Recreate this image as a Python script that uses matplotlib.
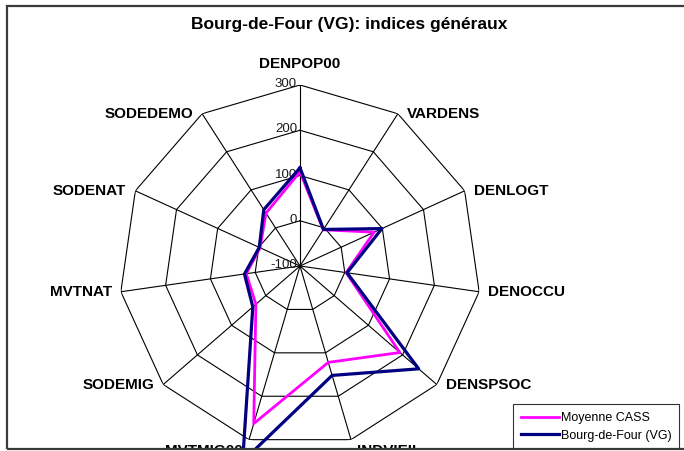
import numpy as np
import matplotlib
matplotlib.use("Agg")
from matplotlib import pyplot as plt
from matplotlib.patches import Rectangle

plt.rcParams['font.family'] = ['Liberation Sans', 'DejaVu Sans']

categories = ['DENPOP00', 'VARDENS', 'DENLOGT', 'DENOCCU', 'DENSPSOC', 'INDVIEIL',
              'MVTMIG00', 'SODEMIG', 'MVTNAT', 'SODENAT', 'SODEDEMO']
moyenne_cass = [108, -5, 80, 3, 192, 122, 263, 29, 20, -3, 39]
bourg_de_four = [117, -4, 99, 5, 247, 152, 350, 38, 24, -1, 48]
ring_values = [-100, 0, 100, 200, 300]
ring_labels = ['-100', '0', '100', '200', '300']

W, H = 684, 451
fig = plt.figure(figsize=(W / 100, H / 100), dpi=100)

# polar axes centred on the radar, radius ~181 px
cx, cy, R = 300, 266, 181
ax = fig.add_axes([(cx - R) / W, (H - cy - R) / H, 2 * R / W, 2 * R / H],
                  projection='polar')
ax.set_theta_zero_location('N')
ax.set_theta_direction(-1)
ax.set_ylim(-100, 300)
ax.grid(False)
ax.set_xticks([])
ax.set_yticks([])
ax.spines['polar'].set_visible(False)
ax.patch.set_visible(False)

n = len(categories)
angles = np.linspace(0, 2 * np.pi, n, endpoint=False)
closed = np.append(angles, angles[0])

# polygon rings and spokes
for v in ring_values[1:]:
    ax.plot(closed, [v] * (n + 1), color='black', lw=0.8, zorder=1)
for a in angles:
    ax.plot([a, a], [-100, 300], color='black', lw=0.8, zorder=1)

for v, s in zip(ring_values, ring_labels):
    ax.annotate(s, xy=(0, v), xytext=(-3, 1), textcoords='offset pixels',
                ha='right', va='center', fontsize=9.5, color='#1a1a1a')

# category labels around the outer ring
for a, name in zip(angles, categories):
    s = np.sin(a)
    c = np.cos(a)
    if abs(s) < 0.05:
        off, ha = (0, 21), 'center'
    elif c < -0.9:
        off, ha = (6 if s > 0 else -6, -11), 'left' if s > 0 else 'right'
    else:
        off, ha = (9 if s > 0 else -9, 0), 'left' if s > 0 else 'right'
    ax.annotate(name, xy=(a, 300), xytext=off, textcoords='offset pixels',
                ha=ha, va='center', fontsize=11, fontweight='bold',
                annotation_clip=False)

l1, = ax.plot(closed, moyenne_cass + moyenne_cass[:1], color='#FF00FF', lw=2.0,
              clip_on=False, zorder=3, label='Moyenne CASS')
l2, = ax.plot(closed, bourg_de_four + bourg_de_four[:1], color='#000080', lw=2.3,
              clip_on=False, zorder=4, label='Bourg-de-Four (VG)')

fig.text(349 / W, 1 - 24 / H, 'Bourg-de-Four (VG): indices généraux',
         ha='center', va='center', fontsize=12.5, fontweight='bold')

leg = fig.legend(handles=[l1, l2], loc='lower left',
                 bbox_to_anchor=(513 / W, 1 - 449 / H), fontsize=9,
                 frameon=True, fancybox=False, edgecolor='black',
                 handlelength=3.1, handletextpad=0.15, borderpad=0.6,
                 labelspacing=0.45, borderaxespad=0)
leg.get_frame().set_linewidth(0.8)
leg.set_zorder(10)

# chart area border, open at the right and bottom edges
fig.add_artist(Rectangle((0, 0), 1, 2 / H, transform=fig.transFigure,
                         facecolor='white', edgecolor='none', zorder=20))
fig.add_artist(Rectangle((7 / W, 1 - 449 / H), 1, 443 / H, transform=fig.transFigure,
                         fill=False, edgecolor='#3a3a3a', lw=1.6, zorder=21))

fig.savefig('out.png', dpi=100)
